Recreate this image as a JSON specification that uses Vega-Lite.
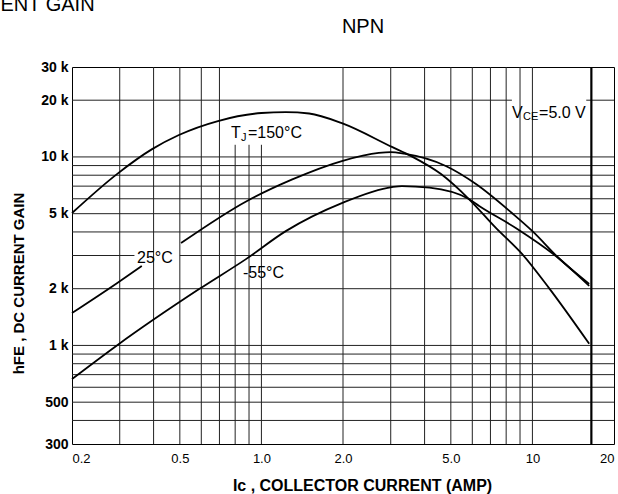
{
  "$schema": "https://vega.github.io/schema/vega-lite/v6.json",
  "padding": {"left": 0, "top": -6, "right": 0, "bottom": 0},
  "title": {"text": "ENT GAIN", "anchor": "start", "frame": "bounds", "dx": -10, "offset": 2, "fontSize": 20, "fontWeight": "normal", "font": "Liberation Sans", "color": "black"},
  "config": {
    "font": "Liberation Sans",
    "view": {"stroke": "black", "strokeWidth": 1},
    "axis": {"grid": false, "domain": false, "ticks": false, "labelColor": "black", "titleColor": "black", "labelFont": "Liberation Sans", "titleFont": "Liberation Sans"}
  },
  "datasets": {
    "hgrid": [
      {"y": 400, "x1": 0.2, "x2": 20}, {"y": 500, "x1": 0.2, "x2": 20}, {"y": 600, "x1": 0.2, "x2": 20},
      {"y": 700, "x1": 0.2, "x2": 20}, {"y": 800, "x1": 0.2, "x2": 20}, {"y": 900, "x1": 0.2, "x2": 20},
      {"y": 1000, "x1": 0.2, "x2": 20}, {"y": 2000, "x1": 0.2, "x2": 20},
      {"y": 3000, "x1": 0.2, "x2": 0.34}, {"y": 3000, "x1": 0.5, "x2": 20},
      {"y": 4000, "x1": 0.2, "x2": 20}, {"y": 5000, "x1": 0.2, "x2": 20}, {"y": 6000, "x1": 0.2, "x2": 20},
      {"y": 7000, "x1": 0.2, "x2": 20}, {"y": 8000, "x1": 0.2, "x2": 20}, {"y": 9000, "x1": 0.2, "x2": 20},
      {"y": 10000, "x1": 0.2, "x2": 20},
      {"y": 20000, "x1": 0.2, "x2": 8.4}, {"y": 20000, "x1": 15.8, "x2": 20}
    ],
    "vgrid": [
      {"x": 0.3, "y1": 300, "y2": 30000}, {"x": 0.4, "y1": 300, "y2": 30000}, {"x": 0.5, "y1": 300, "y2": 30000},
      {"x": 0.6, "y1": 300, "y2": 30000}, {"x": 0.7, "y1": 300, "y2": 30000},
      {"x": 0.8, "y1": 300, "y2": 11600}, {"x": 0.9, "y1": 300, "y2": 11600}, {"x": 1, "y1": 300, "y2": 11600},
      {"x": 2, "y1": 300, "y2": 30000}, {"x": 3, "y1": 300, "y2": 30000}, {"x": 4, "y1": 300, "y2": 30000},
      {"x": 5, "y1": 300, "y2": 30000}, {"x": 6, "y1": 300, "y2": 30000}, {"x": 7, "y1": 300, "y2": 30000},
      {"x": 8, "y1": 300, "y2": 30000}, {"x": 9, "y1": 300, "y2": 30000}, {"x": 10, "y1": 300, "y2": 30000}
    ],
    "thick": [{"x": 16.5, "y1": 300, "y2": 30000}],
    "curves": [
      {"c": "150", "a": 0.2, "h": 5040}, {"c": "150", "a": 0.293, "h": 8110},
      {"c": "150", "a": 0.395, "h": 11000}, {"c": "150", "a": 0.496, "h": 13070}, {"c": "150", "a": 0.691, "h": 15500},
      {"c": "150", "a": 1.0, "h": 17100}, {"c": "150", "a": 1.23, "h": 17300}, {"c": "150", "a": 1.5, "h": 17000},
      {"c": "150", "a": 1.98, "h": 15100}, {"c": "150", "a": 3.03, "h": 11300}, {"c": "150", "a": 3.57, "h": 10100},
      {"c": "150", "a": 4.6, "h": 8110}, {"c": "150", "a": 5.83, "h": 5980}, {"c": "150", "a": 7.33, "h": 4200},
      {"c": "150", "a": 9.17, "h": 3050}, {"c": "150", "a": 11.5, "h": 2020}, {"c": "150", "a": 16.2, "h": 1020},
      {"c": "25a", "a": 0.2, "h": 1486}, {"c": "25a", "a": 0.293, "h": 2140}, {"c": "25a", "a": 0.362, "h": 2640},
      {"c": "25b", "a": 0.505, "h": 3490}, {"c": "25b", "a": 0.885, "h": 5840}, {"c": "25b", "a": 1.3, "h": 7600},
      {"c": "25b", "a": 1.98, "h": 9510}, {"c": "25b", "a": 2.71, "h": 10500}, {"c": "25b", "a": 3.0, "h": 10600},
      {"c": "25b", "a": 3.36, "h": 10400}, {"c": "25b", "a": 4.79, "h": 8950}, {"c": "25b", "a": 6.19, "h": 7180},
      {"c": "25b", "a": 8.4, "h": 5040}, {"c": "25b", "a": 10, "h": 4040}, {"c": "25b", "a": 12.5, "h": 2910},
      {"c": "25b", "a": 16.2, "h": 2120},
      {"c": "m55", "a": 0.2, "h": 663}, {"c": "m55", "a": 0.293, "h": 1000}, {"c": "m55", "a": 0.589, "h": 1990},
      {"c": "m55", "a": 0.877, "h": 2870}, {"c": "m55", "a": 1.23, "h": 4040}, {"c": "m55", "a": 1.98, "h": 5690},
      {"c": "m55", "a": 3.03, "h": 6920}, {"c": "m55", "a": 3.3, "h": 7000}, {"c": "m55", "a": 4.17, "h": 6870},
      {"c": "m55", "a": 5.83, "h": 5980}, {"c": "m55", "a": 6.36, "h": 5490}, {"c": "m55", "a": 8.68, "h": 4200},
      {"c": "m55", "a": 12.2, "h": 2980}, {"c": "m55", "a": 16.2, "h": 2070}
    ],
    "mainLabels": [
      {"x": 0.772, "y": 12600, "t": "T"}, {"x": 0.892, "y": 12600, "t": "=150°C"},
      {"x": 8.41, "y": 16090, "t": "V"}, {"x": 10.58, "y": 16090, "t": "=5.0 V"},
      {"x": 0.3475, "y": 2736, "t": "25°C"}, {"x": 0.855, "y": 2279, "t": "-55°C"}
    ],
    "subLabels": [
      {"x": 0.841, "y": 12140, "t": "J"}, {"x": 9.23, "y": 15700, "t": "CE"}
    ]
  },
  "vconcat": [
    {
      "width": 542,
      "height": 377,
      "title": {"text": "NPN", "anchor": "middle", "dx": 20, "offset": 23, "fontSize": 20, "fontWeight": "normal", "font": "Liberation Sans", "color": "black"},
      "layer": [
        {
          "data": {"name": "hgrid"},
          "mark": {"type": "rule", "color": "#222", "strokeWidth": 1},
          "encoding": {
            "y": {"field": "y", "type": "quantitative", "scale": {"type": "log", "domain": [300, 30000], "nice": false},
              "axis": {"values": [300, 500, 1000, 2000, 5000, 10000, 20000, 30000],
                "labelExpr": "datum.value >= 1000 ? format(datum.value/1000, 'd') + ' k' : format(datum.value, 'd')",
                "labelFontSize": 14, "labelFontWeight": "bold", "labelPadding": 4,
                "title": "hFE , DC CURRENT GAIN", "titleFontSize": 15, "titleFontWeight": "bold", "titleX": -46, "titleY": 216}},
            "x": {"field": "x1", "type": "quantitative", "scale": {"type": "log", "domain": [0.2, 20], "nice": false},
              "axis": {"values": [0.2, 0.5, 1, 2, 5, 10, 20],
                "labelExpr": "datum.value >= 10 ? format(datum.value, 'd') : format(datum.value, '.1f')",
                "labelFlush": true, "labelFontSize": 13, "labelFontWeight": "normal", "labelPadding": 8,
                "title": "Ic , COLLECTOR CURRENT (AMP)", "titleFontSize": 16, "titleFontWeight": "bold", "titlePadding": 12, "titleX": 290}},
            "x2": {"field": "x2"}
          }
        },
        {
          "data": {"name": "vgrid"},
          "mark": {"type": "rule", "color": "#222", "strokeWidth": 1},
          "encoding": {
            "x": {"field": "x", "type": "quantitative", "scale": {"type": "log", "domain": [0.2, 20], "nice": false}},
            "y": {"field": "y1", "type": "quantitative", "scale": {"type": "log", "domain": [300, 30000], "nice": false}},
            "y2": {"field": "y2"}
          }
        },
        {
          "data": {"name": "thick"},
          "mark": {"type": "rule", "color": "black", "strokeWidth": 2.2},
          "encoding": {
            "x": {"field": "x", "type": "quantitative", "scale": {"type": "log", "domain": [0.2, 20], "nice": false}},
            "y": {"field": "y1", "type": "quantitative", "scale": {"type": "log", "domain": [300, 30000], "nice": false}},
            "y2": {"field": "y2"}
          }
        },
        {
          "data": {"name": "curves"},
          "mark": {"type": "line", "color": "black", "strokeWidth": 1.8, "interpolate": "monotone"},
          "encoding": {
            "x": {"field": "a", "type": "quantitative", "scale": {"type": "log", "domain": [0.2, 20], "nice": false}},
            "y": {"field": "h", "type": "quantitative", "scale": {"type": "log", "domain": [300, 30000], "nice": false}},
            "detail": {"field": "c"}
          }
        },
        {
          "data": {"name": "mainLabels"},
          "mark": {"type": "text", "align": "left", "baseline": "alphabetic", "fontSize": 16, "font": "Liberation Sans", "color": "black"},
          "encoding": {
            "x": {"field": "x", "type": "quantitative", "scale": {"type": "log", "domain": [0.2, 20], "nice": false}},
            "y": {"field": "y", "type": "quantitative", "scale": {"type": "log", "domain": [300, 30000], "nice": false}},
            "text": {"field": "t"}
          }
        },
        {
          "data": {"name": "subLabels"},
          "mark": {"type": "text", "align": "left", "baseline": "alphabetic", "fontSize": 11, "font": "Liberation Sans", "color": "black"},
          "encoding": {
            "x": {"field": "x", "type": "quantitative", "scale": {"type": "log", "domain": [0.2, 20], "nice": false}},
            "y": {"field": "y", "type": "quantitative", "scale": {"type": "log", "domain": [300, 30000], "nice": false}},
            "text": {"field": "t"}
          }
        }
      ]
    }
  ]
}
